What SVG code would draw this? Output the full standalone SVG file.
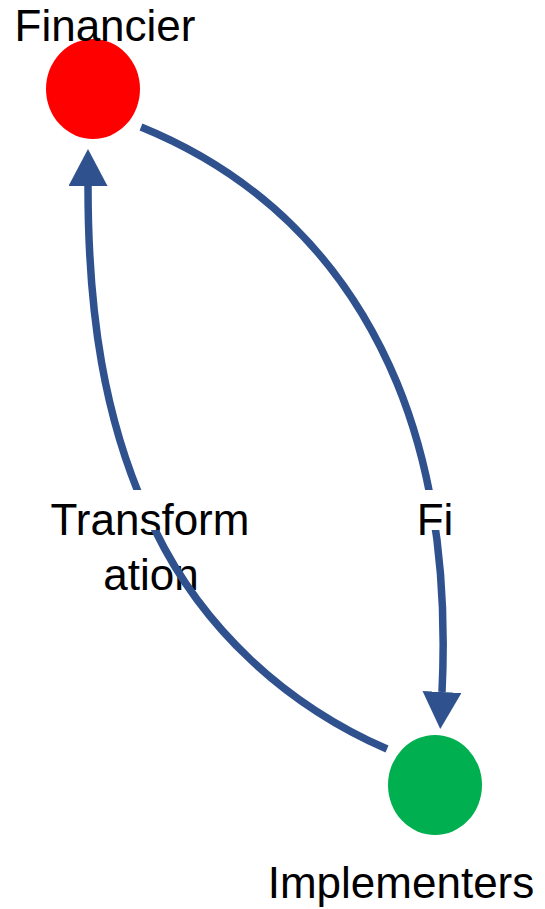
<svg xmlns="http://www.w3.org/2000/svg" width="545" height="909" viewBox="0 0 545 909">
  <style>
    .lbl { font-family: "Liberation Sans", Arial, sans-serif; font-size: 44px; fill: #000; text-anchor: middle; }
    .edge { fill: none; stroke: #2F528F; stroke-width: 7.5; stroke-linecap: butt; }
  </style>
  <defs>
    <marker id="arrow" markerUnits="userSpaceOnUse" viewBox="0 0 37 39" refX="0" refY="19.5" markerWidth="37" markerHeight="39" orient="auto">
      <path d="M0,0 L37,19.5 L0,39 Z" fill="#2F528F"/>
    </marker>
    <mask id="labelGap" maskUnits="userSpaceOnUse" x="0" y="0" width="545" height="909">
      <rect x="0" y="0" width="545" height="909" fill="#fff"/>
      <rect x="0" y="490" width="545" height="40" fill="#000"/>
    </mask>
  </defs>
  <rect width="545" height="909" fill="#fff"/>

  <g id="node-financier">
    <ellipse cx="93" cy="89" rx="47" ry="50" fill="#FF0000"/>
    <text class="lbl" x="105" y="41">Financier</text>
  </g>
  <g id="node-implementers">
    <ellipse cx="435" cy="785" rx="47" ry="50" fill="#00B050"/>
    <text class="lbl" x="401" y="898">Implementers</text>
  </g>

  <g id="edge-labels">
    <text class="lbl" x="150" y="535">Transform</text>
    <text class="lbl" x="151" y="590">ation</text>
    <text class="lbl" x="435" y="535">Fi</text>
  </g>

  <g id="connectors" mask="url(#labelGap)">
    <path class="edge" d="M141,127 C261,176 347,263 397,383 C437,480 447,587 442,692" marker-end="url(#arrow)"/>
    <path class="edge" d="M387,749 C286,705 203,629 155,530 C102,422 88,307 88,186" marker-end="url(#arrow)"/>
  </g>
</svg>
